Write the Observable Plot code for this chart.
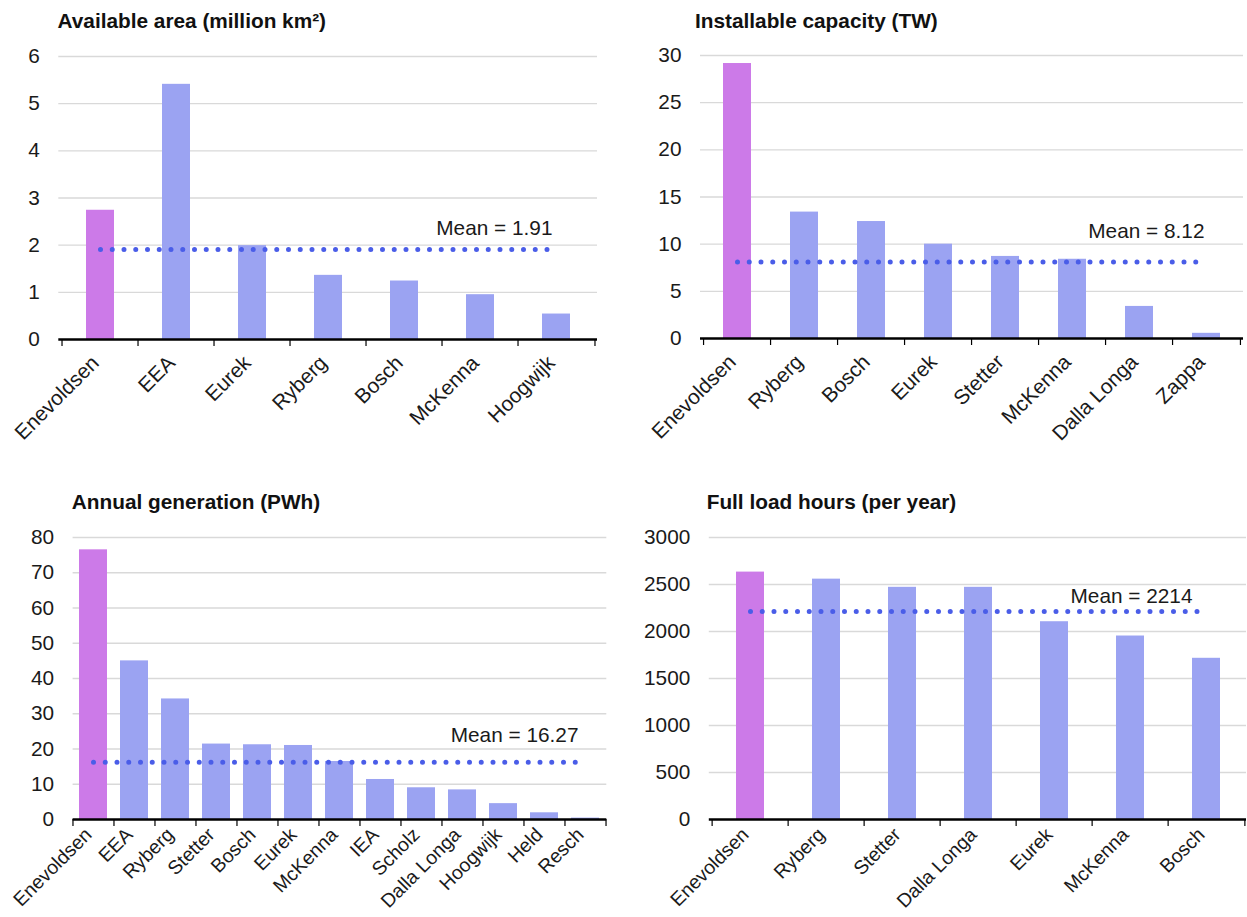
<!DOCTYPE html>
<html>
<head>
<meta charset="utf-8">
<script src="https://cdn.jsdelivr.net/npm/d3@7"></script>
<script src="https://cdn.jsdelivr.net/npm/@observablehq/plot@0.6"></script>
<style>
  html, body { margin: 0; padding: 0; background: #fff; }
  body { position: relative; width: 1247px; height: 917px; overflow: hidden; font-family: "Liberation Sans", Arial, sans-serif; }
  .title { position: absolute; font-size: 20.8px; font-weight: bold; line-height: 20px; color: #111; white-space: nowrap; }
  .panel { position: absolute; }
  .panel svg { overflow: visible; }
</style>
</head>
<body>
<script>
// ---- Data ----
const highlight = "Enevoldsen";

const titles = [
  "Available area (million km²)",
  "Installable capacity (TW)",
  "Annual generation (PWh)",
  "Full load hours (per year)"
];

const cats1 = ["Enevoldsen", "EEA", "Eurek", "Ryberg", "Bosch", "McKenna", "Hoogwijk"];
const vals1 = [2.74, 5.41, 1.99, 1.36, 1.24, 0.95, 0.54];
const mean1 = 1.91;
const ticks1 = [0, 1, 2, 3, 4, 5, 6];

const cats2 = ["Enevoldsen", "Ryberg", "Bosch", "Eurek", "Stetter", "McKenna", "Dalla Longa", "Zappa"];
const vals2 = [29.15, 13.4, 12.4, 10.0, 8.7, 8.4, 3.4, 0.55];
const mean2 = 8.12;
const ticks2 = [0, 5, 10, 15, 20, 25, 30];

const cats3 = ["Enevoldsen", "EEA", "Ryberg", "Stetter", "Bosch", "Eurek", "McKenna", "IEA", "Scholz", "Dalla Longa", "Hoogwijk", "Held", "Resch"];
const vals3 = [76.5, 45.0, 34.2, 21.4, 21.2, 21.0, 16.45, 11.35, 9.0, 8.4, 4.5, 1.9, 0.4];
const mean3 = 16.27;
const ticks3 = [0, 10, 20, 30, 40, 50, 60, 70, 80];

const cats4 = ["Enevoldsen", "Ryberg", "Stetter", "Dalla Longa", "Eurek", "McKenna", "Bosch"];
const vals4 = [2632, 2557, 2470, 2470, 2104, 1952, 1715];
const mean4 = 2214;
const ticks4 = [0, 500, 1000, 1500, 2000, 2500, 3000];

// ---- Style / layout ----
const colHighlight = "#cc7ae8";
const colBar = "#9ba3f2";
const colMean = "#4a5de8";
const colGrid = "#d9d9d9";
const font = "'Liberation Sans', Arial, sans-serif";
const fs = 20.8;
const barW = 28;

const layouts = [
  {left: 0,   top: 36,    width: 620, ml: 58.3, mr: 23,   mb: 110, ph: 283, tp: 20, xfs: 20.8, titleLeft: 57.5, titleTop: 11.4,  mdx: -4,  mdy: -21},
  {left: 620, top: 35,    width: 627, ml: 80,   mr: 4,    mb: 110, ph: 283, tp: 20, xfs: 20.8, titleLeft: 695,  titleTop: 11.4,  mdx: -2,  mdy: -31},
  {left: 0,   top: 516.7, width: 620, ml: 72.6, mr: 13.7, mb: 98,  ph: 282, tp: 12, xfs: 19.4, titleLeft: 71.8, titleTop: 492.4, mdx: -7,  mdy: -26.5},
  {left: 620, top: 516.7, width: 627, ml: 88.8, mr: 1,    mb: 98,  ph: 282, tp: 12, xfs: 19.4, titleLeft: 706.7, titleTop: 492.4, mdx: -14, mdy: -15.5}
];

const series = [
  {cats: cats1, vals: vals1, mean: mean1, ticks: ticks1},
  {cats: cats2, vals: vals2, mean: mean2, ticks: ticks2},
  {cats: cats3, vals: vals3, mean: mean3, ticks: ticks3},
  {cats: cats4, vals: vals4, mean: mean4, ticks: ticks4}
];

series.forEach((s, k) => {
  const L = layouts[k];
  const mt = 20;
  const n = s.cats.length;
  const step = (L.width - L.ml - L.mr) / n;
  const p = 1 - barW / step;
  const data = s.cats.map((c, i) => ({name: c, value: s.vals[i]}));
  const meanData = [{name: s.cats[0], value: s.mean}, {name: s.cats[n - 1], value: s.mean}];
  const yMax = s.ticks[s.ticks.length - 1];

  const chart = Plot.plot({
    width: L.width,
    height: mt + L.ph + L.mb,
    marginTop: mt,
    marginBottom: L.mb,
    marginLeft: L.ml,
    marginRight: L.mr,
    style: {fontFamily: font, fontSize: fs + "px", color: "#1a1a1a", background: "transparent", overflow: "visible"},
    x: {domain: s.cats, paddingInner: p, paddingOuter: p / 2},
    y: {domain: [0, yMax]},
    marks: [
      Plot.ruleY(s.ticks.filter(t => t > 0), {stroke: colGrid, strokeWidth: 1.3}),
      Plot.axisY({ticks: s.ticks, tickSize: 0, tickPadding: 19, tickFormat: d => String(d), label: null, fontSize: fs}),
      Plot.axisX({tickSize: 0, tickRotate: -45, tickPadding: L.tp, dx: -5, label: null, fontSize: L.xfs}),
      Plot.barY(data, {x: "name", y: "value", fill: d => d.name === highlight ? colHighlight : colBar}),
      Plot.ruleY([0], {stroke: "#000", strokeWidth: 2.3}),
      Plot.ruleX(s.cats, {x: d => d, y1: 0, y2: 0, insetBottom: -7, dx: -step / 2, stroke: "#000", strokeWidth: 1.2}),
      Plot.ruleX([s.cats[n - 1]], {x: d => d, y1: 0, y2: 0, insetBottom: -7, dx: step / 2, stroke: "#000", strokeWidth: 1.2}),
      Plot.line(meanData, {x: "name", y: "value", stroke: colMean, strokeWidth: 5, strokeDasharray: "0 11.75", strokeLinecap: "round"}),
      Plot.text([meanData[1]], {x: "name", y: "value", text: d => `Mean = ${d.value}`, textAnchor: "end", dx: L.mdx, dy: L.mdy, fontSize: fs, fill: "#1a1a1a"})
    ]
  });

  const div = document.createElement("div");
  div.className = "panel";
  div.style.left = L.left + "px";
  div.style.top = L.top + "px";
  div.appendChild(chart);
  document.body.appendChild(div);

  const t = document.createElement("div");
  t.className = "title";
  t.style.left = L.titleLeft + "px";
  t.style.top = L.titleTop + "px";
  t.textContent = titles[k];
  document.body.appendChild(t);
});
</script>
</body>
</html>
